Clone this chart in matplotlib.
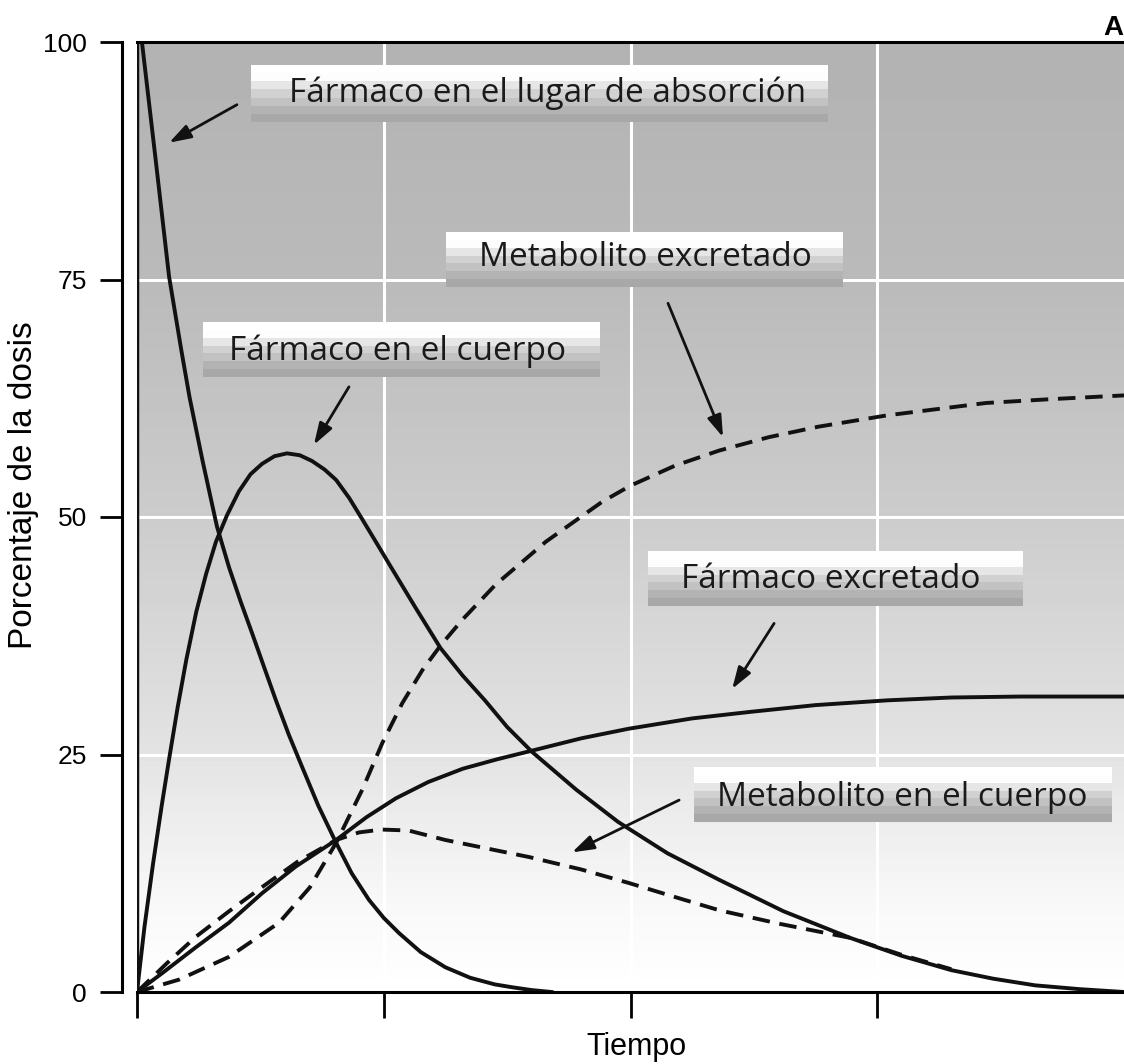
import numpy as np
import matplotlib.pyplot as plt

# Datos (tiempo en unidades arbitrarias, % de la dosis)
t_absorcion = [0.02, 0.077, 0.13, 0.18, 0.213, 0.265, 0.324, 0.373, 0.42, 0.466, 0.515, 0.563, 0.615, 0.669,
               0.735, 0.807, 0.87, 0.94, 1.0, 1.062, 1.15, 1.25, 1.35, 1.45, 1.52, 1.6, 1.68]
y_absorcion = [100, 87.3, 75.3, 67.5, 62.6, 56.0, 49.0, 44.7, 41.1, 37.8, 34.2, 30.7, 27.1, 23.7,
               19.6, 15.7, 12.5, 9.7, 7.8, 6.2, 4.2, 2.6, 1.5, 0.8, 0.5, 0.2, 0]

t_cuerpo = [0, 0.03, 0.065, 0.1, 0.13, 0.165, 0.2, 0.24, 0.28, 0.32, 0.365, 0.413, 0.46, 0.507, 0.557,
            0.608, 0.66, 0.709, 0.76, 0.807, 0.86, 0.912, 0.97, 1.03, 1.13, 1.23, 1.32, 1.41, 1.50, 1.60,
            1.78, 1.95, 2.15, 2.36, 2.62, 2.89, 3.10, 3.30, 3.47, 3.64, 3.82, 4.0]
y_cuerpo = [0, 6.8, 13.5, 19.6, 24.5, 30.0, 35.0, 40.0, 44.0, 47.4, 50.2, 52.7, 54.5, 55.6, 56.4,
            56.7, 56.5, 55.9, 55.0, 53.9, 52.0, 49.8, 47.3, 44.7, 40.4, 36.2, 33.3, 30.7, 27.9, 25.3,
            21.3, 17.9, 14.6, 11.8, 8.5, 5.7, 3.8, 2.3, 1.4, 0.7, 0.3, 0]

t_excretado = [0, 0.103, 0.238, 0.373, 0.507, 0.643, 0.807, 0.93, 1.05, 1.18, 1.32, 1.46, 1.60, 1.8, 1.99,
               2.25, 2.49, 2.75, 3.04, 3.3, 3.58, 4.0]
y_excretado = [0, 2.0, 4.7, 7.3, 10.4, 13.2, 16.0, 18.4, 20.4, 22.1, 23.5, 24.5, 25.4, 26.7, 27.7,
               28.8, 29.5, 30.2, 30.7, 31.0, 31.1, 31.1]

t_met_cuerpo = [0, 0.12, 0.238, 0.373, 0.51, 0.65, 0.807, 0.9, 0.99, 1.1, 1.25, 1.42, 1.59, 1.8, 1.99,
                2.18, 2.36, 2.6, 2.89, 3.1, 3.3]
y_met_cuerpo = [0, 3.0, 5.8, 8.5, 11.1, 13.7, 16.0, 16.8, 17.1, 17.0, 16.0, 15.1, 14.2, 12.9, 11.5,
                10.0, 8.6, 7.2, 5.7, 3.9, 2.4]

t_met_excretado = [0, 0.17, 0.373, 0.576, 0.70, 0.807, 0.913, 0.994, 1.075, 1.157, 1.231, 1.319, 1.454,
                   1.657, 1.885, 2.0, 2.18, 2.36, 2.56, 2.76, 3.04, 3.44, 3.7, 4.0]
y_met_excretado = [0, 1.3, 3.7, 7.3, 11.0, 15.7, 21.3, 26.2, 30.4, 33.9, 36.5, 39.2, 42.9,
                   47.4, 51.6, 53.3, 55.4, 57.0, 58.4, 59.5, 60.7, 62.0, 62.4, 62.8]

# Etiquetas: texto, centro del texto, caja (x0, x1, y0, y1), flecha (inicio, punta)
etiquetas = ['Fármaco en el lugar de absorción', 'Metabolito excretado', 'Fármaco en el cuerpo',
             'Fármaco excretado', 'Metabolito en el cuerpo']
pos_texto = [(1.663, 94.6), (2.06, 77.3), (1.058, 67.4), (2.81, 43.4), (3.10, 20.5)]
cajas = [(0.462, 2.797, 91.6, 97.5), (1.253, 2.858, 74.2, 79.9), (0.268, 1.873, 64.7, 70.4),
         (2.071, 3.587, 40.6, 46.3), (2.258, 3.952, 17.9, 23.6)]
flechas = [((0.405, 93.4), (0.130, 89.4)), ((2.152, 72.5), (2.375, 58.4)), ((0.859, 63.7), (0.717, 57.6)),
           ((2.582, 38.8), (2.412, 31.9)), ((2.197, 20.2), (1.763, 14.7))]

fig = plt.figure(figsize=(11.24, 10.64), dpi=100)
ax = fig.add_axes([137 / 1124, 72 / 1064, 987 / 1124, 950 / 1064])

# fondo degradado (gris arriba, blanco abajo)
yy = np.linspace(0, 100, 300)
gris = np.interp(yy, [0, 10, 25, 50, 75, 100], [1.0, 0.97, 0.89, 0.80, 0.73, 0.70])
ax.imshow(gris[:, None], cmap='gray', vmin=0, vmax=1, extent=[0, 4, 0, 100],
          origin='lower', aspect='auto', zorder=0)

for v in [25, 50, 75]:
    ax.axhline(v, color='white', lw=2.2, zorder=1)
for v in [1, 2, 3]:
    ax.axvline(v, color='white', lw=2.2, zorder=1)

# cajas con bandas de gris
bandas = np.array([0.66, 0.70, 0.76, 0.82, 0.90, 0.99, 1.0])
for (x0, x1, y0, y1), txt, (tx, ty) in zip(cajas, etiquetas, pos_texto):
    ax.imshow(bandas[:, None], cmap='gray', vmin=0, vmax=1, extent=[x0, x1, y0, y1],
              origin='lower', aspect='auto', zorder=2, interpolation='nearest')
    ax.text(tx, ty, txt, fontsize=24, family='Open Sans', ha='center', va='center',
            color='#1a1a1a', zorder=3)

for inicio, punta in flechas:
    ax.annotate('', xy=punta, xytext=inicio,
                arrowprops=dict(arrowstyle='-|>,head_length=0.55,head_width=0.18', color='#111111',
                                lw=2, mutation_scale=24, shrinkA=0, shrinkB=0), zorder=4)

estilo = dict(color='#111111', lw=2.8, zorder=4, solid_joinstyle='round')
ax.plot(t_absorcion, y_absorcion, **estilo)
ax.plot(t_cuerpo, y_cuerpo, **estilo)
ax.plot(t_excretado, y_excretado, **estilo)
ax.plot(t_met_cuerpo, y_met_cuerpo, linestyle=(0, (4.5, 2.5)), color='#111111', lw=2.8, zorder=4)
ax.plot(t_met_excretado, y_met_excretado, linestyle=(0, (4.5, 2.5)), color='#111111', lw=2.8, zorder=4)

ax.set_xlim(0, 4)
ax.set_ylim(0, 100)
ax.axvline(0, color='#111111', lw=2.5, zorder=5)

ax.spines['right'].set_visible(False)
ax.spines['left'].set_position(('outward', 11))
for s in ['left', 'top', 'bottom']:
    ax.spines[s].set_linewidth(2.2)
    ax.spines[s].set_zorder(6)

ax.set_xticks([0, 1, 2, 3])
ax.set_yticks([0, 25, 50, 75, 100])
ax.tick_params(axis='x', direction='out', length=19, width=2, labelbottom=False)
ax.tick_params(axis='y', direction='out', length=16, width=2, labelsize=19, pad=9)
for lab in ax.get_yticklabels():
    lab.set_family('Liberation Sans')

fig.text(24 / 1124, 1 - 485 / 1064, 'Porcentaje de la dosis', rotation=90, fontsize=24,
         family='Liberation Sans', ha='center', va='center')
fig.text(636 / 1124, 1 - 1055 / 1064, 'Tiempo', fontsize=22, family='Liberation Sans',
         ha='center', va='baseline')
fig.text(1113 / 1124, 1 - 28 / 1064, 'A', fontsize=20, fontweight='bold',
         family='Liberation Sans', ha='center', va='center')

fig.savefig('out.png', dpi=100)
